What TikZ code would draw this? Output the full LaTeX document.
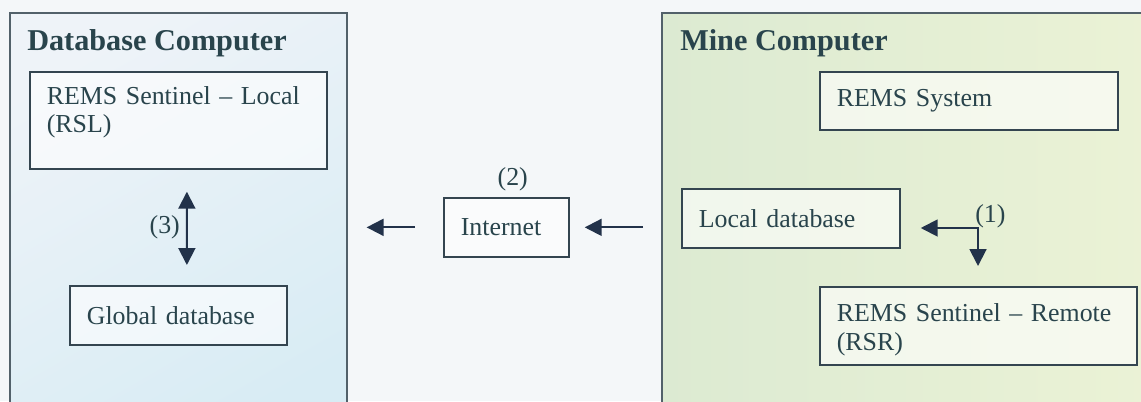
\documentclass[tikz,border=0pt]{standalone}
\usepackage{fontspec}
\setmainfont{Liberation Serif}
\usetikzlibrary{positioning,arrows.meta}
\definecolor{ink}{HTML}{29444C}
\definecolor{rule}{HTML}{344550}
\definecolor{dart}{HTML}{22324A}
\definecolor{backdrop}{HTML}{F4F7F9}
\definecolor{paneA}{HTML}{EEF3F8}
\definecolor{paneB}{HTML}{D8ECF4}
\definecolor{paneC}{HTML}{DCEAD2}
\definecolor{paneD}{HTML}{ECF3D6}
\def\px{0.025cm}
\newcommand{\txtfont}{\fontsize{18.4}{20.5}\selectfont}
\newcommand{\ttlfont}{\fontsize{21.5}{24}\selectfont\bfseries}
\tikzstyle{panel}=[draw=rule!85,line width=1.1pt,anchor=north west,inner sep=0pt,minimum height=10.75cm]
\tikzstyle{box}=[draw=rule,line width=1.2pt,fill=white,fill opacity=.6,text opacity=1,anchor=north west,align=left,inner xsep=0.425cm,text=ink,font=\txtfont]
\tikzstyle{title}=[anchor=base west,inner sep=0pt,text=ink,font=\ttlfont]
\tikzstyle{tag}=[text=ink,font=\txtfont]
\tikzstyle{link}=[draw=dart,line width=1.4pt,->]
\newcommand{\newBox}[6]{\node[box,text width=#4,minimum height=#5,#6](#1) at (#3) {#2};}

\begin{document}
\begin{tikzpicture}[x=\px,y=-\px,
      >={Triangle[length=12pt,width=12pt]}
      ]
      \path[use as bounding box,clip] (0,0) rectangle (1141,401);
      \fill[backdrop] (0,0) rectangle (1141,401);
      % the two computers
      \node[panel,minimum width=8.425cm,top color=paneA,bottom color=paneB,shading angle=30] (dbpc) at (9,12) {};
      \node[panel,minimum width=13cm,left color=paneC,right color=paneD] (minepc) at (661,12) {};
      \node[title] (dbtitle) at (27,50) {Database Computer};
      \node[title] (minetitle) at (680,50) {Mine Computer};
      % boxes
      \newBox{rsl}{REMS Sentinel – Local\\(RSL)}{29,71}{6.575cm}{2.425cm}{text depth=36pt}
      \newBox{glob}{Global database}{69,285}{4.575cm}{1.475cm}{}
      \newBox{inet}{Internet}{443,197}{2.275cm}{1.475cm}{}
      \newBox{rems}{REMS System}{819,71}{6.6cm}{1.45cm}{}
      \newBox{ldb}{Local database}{681,188}{4.6cm}{1.475cm}{}
      \newBox{rsr}{REMS Sentinel – Remote\\(RSR)}{819,286}{7.075cm}{1.95cm}{text depth=18.5pt}
      % links
      \coordinate (fork) at (978,228);
      \draw[link,<->,shorten <=0.55cm,shorten >=0.5cm] ([xshift=0.2125cm]rsl.south) -- ([xshift=0.2125cm]glob.north)
            node[tag,midway,left=1pt] (three) {(3)};
      \draw[link,shorten <=0.7cm,shorten >=0.475cm] (inet.west) -- (inet.west -| dbpc.east);
      \draw[link,shorten <=0.45cm,shorten >=0.375cm] (inet.east -| minepc.west) -- (inet.east);
      \draw[link,<->,shorten <=0.5cm,shorten >=0.5cm] (fork -| ldb.east) -- (fork) -- (fork |- rsr.north);
      \node[tag,above=1pt of inet,xshift=0.16cm] (two) {(2)};
      \node[tag,anchor=base west,inner sep=0pt] (one) at (975,222) {(1)};
    \end{tikzpicture}
\end{document}
